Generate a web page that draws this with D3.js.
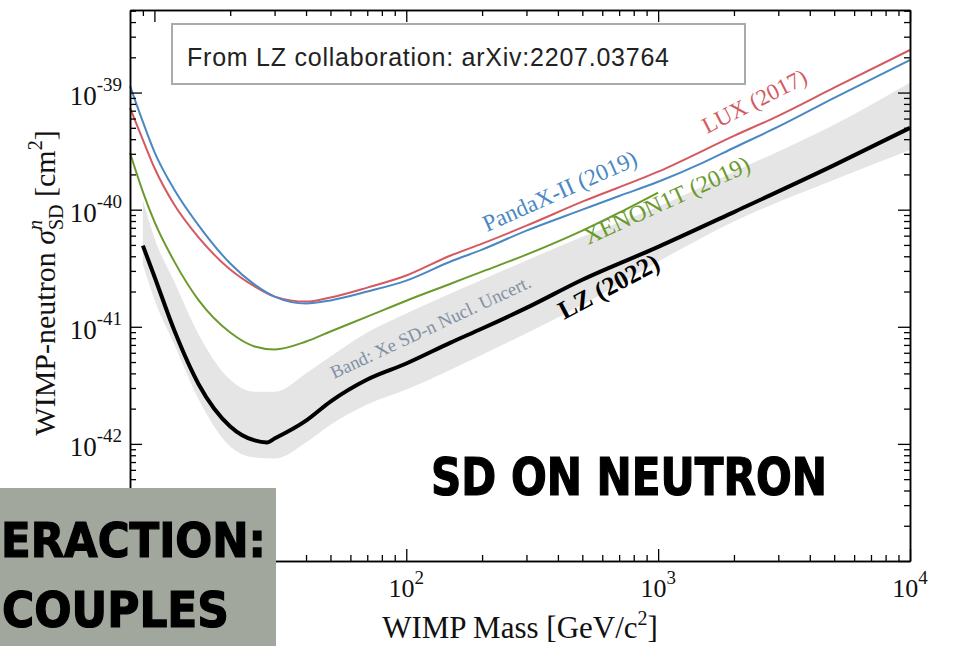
<!DOCTYPE html>
<html lang="en">
<head>
<meta charset="utf-8">
<title>LZ SD neutron limits</title>
<script src="https://d3js.org/d3.v7.min.js"></script>
<style>
    body { margin: 0; background: #fff; }
    svg { display: block; }
    .serif { font-family: "Liberation Serif", "DejaVu Serif", serif; }
</style>
</head>
<body>
<script>
// masses in GeV/c^2, cross sections in cm^2
var luxMass = [8, 9, 10, 12, 15, 20, 25, 30, 40, 50, 70, 100, 150, 200, 300, 500, 1000, 2000, 3000, 5000, 10000];
var luxSigma = [7.4e-40, 3.95e-40, 2.28e-40, 1.10e-40, 5.77e-41, 3.08e-41, 2.21e-41, 1.81e-41, 1.64e-41, 1.78e-41, 2.16e-41,
    2.74e-41, 4.06e-41, 5.13e-41, 7.30e-41, 1.17e-40, 2.11e-40, 4.27e-40, 6.33e-40, 1.10e-39, 2.31e-39];

var pandaMass = [8, 9, 10, 12, 15, 20, 25, 30, 40, 50, 70, 100, 150, 200, 300, 500, 700, 1000, 1500, 2000, 3000, 5000, 10000];
var pandaSigma = [1.14e-39, 5.62e-40, 3.12e-40, 1.48e-40, 7.31e-41, 3.47e-41, 2.29e-41, 1.81e-41, 1.58e-41, 1.68e-41, 2.00e-41,
    2.48e-41, 3.61e-41, 4.56e-41, 6.62e-41, 1.00e-40, 1.31e-40, 1.73e-40, 2.51e-40, 3.38e-40, 5.11e-40, 9.01e-40, 1.90e-39];

var xenonMass = [8, 9, 10, 12, 15, 20, 25, 30, 40, 50, 70, 100, 150, 200, 300, 500, 700, 1000];
var xenonSigma = [3.06e-40, 1.42e-40, 7.90e-41, 3.60e-41, 1.68e-41, 8.93e-42, 6.79e-42, 6.40e-42, 7.48e-42, 9.12e-42, 1.22e-41,
    1.67e-41, 2.33e-41, 2.96e-41, 4.13e-41, 6.62e-41, 9.42e-41, 1.40e-40];

var lzMass = [9, 10, 12, 15, 20, 25, 28, 30, 40, 50, 70, 100, 150, 200, 300, 500, 1000, 2000, 5000, 10000];
var lzSigma = [4.93e-41, 2.69e-41, 9.29e-42, 3.22e-42, 1.41e-42, 1.07e-42, 1.03e-42, 1.11e-42, 1.58e-42, 2.30e-42, 3.55e-42,
    4.86e-42, 7.33e-42, 9.66e-42, 1.45e-41, 2.52e-41, 4.81e-41, 9.54e-41, 2.40e-40, 4.99e-40];

var bandMass = [9, 10, 12, 15, 20, 25, 30, 40, 50, 70, 100, 200, 500, 1000, 2000, 5000, 10000];
var bandHigh = [1.21e-40, 5.74e-41, 2.42e-41, 8.55e-42, 3.53e-42, 2.79e-42, 2.79e-42, 4.00e-42, 5.58e-42, 8.93e-42, 1.30e-41,
    2.52e-41, 5.86e-41, 1.06e-40, 2.11e-40, 5.30e-40, 1.21e-39];
var bandLow = [3.40e-41, 1.71e-41, 7.05e-42, 2.39e-42, 9.51e-43, 7.66e-43, 7.51e-43, 1.03e-42, 1.46e-42, 2.17e-42, 2.91e-42,
    5.78e-42, 1.54e-41, 3.60e-41, 7.91e-41, 1.80e-40, 3.24e-40];

var xMajor = [10, 100, 1000, 10000];
var xLabels = [100, 1000, 10000];
var yMajor = [1e-43, 1e-42, 1e-41, 1e-40, 1e-39];

var width = 957, height = 646;
var margin = { top: 10, right: 47, bottom: 85, left: 130 };

var svg = d3.select("body").append("svg")
    .attr("width", width)
    .attr("height", height);

var x = d3.scaleLog().domain([8, 10000]).range([margin.left, width - margin.right]);
var y = d3.scaleLog().domain([1e-43, 5.07e-39]).range([height - margin.bottom, margin.top]);

function minorTicks(lo, hi) {
    var t = [];
    for (var e = Math.floor(Math.log10(lo)); e <= Math.ceil(Math.log10(hi)); e++) {
        for (var k = 2; k <= 9; k++) {
            var v = k * Math.pow(10, e);
            if (v > lo && v < hi) t.push(v);
        }
    }
    return t;
}

// uncertainty band
var bandData = bandMass.map(function (m, i) { return { m: m, lo: bandLow[i], hi: bandHigh[i] }; });
svg.append("path")
    .datum(bandData)
    .attr("fill", "#e5e5e5")
    .attr("d", d3.area()
        .x(function (d) { return x(d.m); })
        .y0(function (d) { return y(d.lo); })
        .y1(function (d) { return y(d.hi); })
        .curve(d3.curveMonotoneX));

var line = d3.line()
    .x(function (d) { return x(d[0]); })
    .y(function (d) { return y(d[1]); })
    .curve(d3.curveMonotoneX);

function drawCurve(ms, ss, color, w) {
    svg.append("path")
        .datum(d3.zip(ms, ss))
        .attr("fill", "none")
        .attr("stroke", color)
        .attr("stroke-width", w)
        .attr("stroke-linejoin", "round")
        .attr("d", line);
}

drawCurve(xenonMass, xenonSigma, "#6b9a2c", 2);
drawCurve(luxMass, luxSigma, "#d45a60", 2);
drawCurve(pandaMass, pandaSigma, "#4a88c4", 2);
drawCurve(lzMass, lzSigma, "#000", 4);

// curve labels
function rotLabel(txt, px, py, ang, size, color, weight) {
    svg.append("text")
        .attr("class", "serif")
        .attr("transform", "translate(" + px + "," + py + ") rotate(" + ang + ")")
        .attr("font-size", size)
        .attr("font-weight", weight || "normal")
        .attr("fill", color)
        .text(txt);
}
rotLabel("PandaX-II (2019)", 487, 232, -24, 23.5, "#4a88c4");
rotLabel("LUX (2017)", 707, 134, -27, 23, "#d45a60");
rotLabel("XENON1T (2019)", 588, 245, -24.5, 24, "#6b9a2c");
rotLabel("LZ (2022)", 564, 320, -28, 26, "#000", "bold");
rotLabel("Band: Xe SD-n Nucl. Uncert.", 334, 379, -25, 18.5, "#7f90a4");

// axes: inward ticks on all four sides
var x0 = x.range()[0], x1 = x.range()[1], y0 = y.range()[0], y1 = y.range()[1];
var xMinor = minorTicks(8, 10000), yMinor = minorTicks(1e-43, 5.07e-39);

function addAxis(gen, tx, ty, vals, size) {
    svg.append("g")
        .attr("transform", "translate(" + tx + "," + ty + ")")
        .call(gen.tickValues(vals).tickSizeInner(size).tickSizeOuter(0).tickFormat(""))
        .call(function (g) { g.select(".domain").attr("stroke-width", 1.5); })
        .selectAll(".tick line").attr("stroke-width", 1.3);
}
addAxis(d3.axisBottom(x), 0, y0, xMajor, -12);
addAxis(d3.axisBottom(x), 0, y0, xMinor, -6);
addAxis(d3.axisTop(x), 0, y1, xMajor, -12);
addAxis(d3.axisTop(x), 0, y1, xMinor, -6);
addAxis(d3.axisLeft(y), x0, 0, yMajor, -12);
addAxis(d3.axisLeft(y), x0, 0, yMinor, -6);
addAxis(d3.axisRight(y), x1, 0, yMajor, -12);
addAxis(d3.axisRight(y), x1, 0, yMinor, -6);

// tick labels with exponents
yMajor.forEach(function (v) {
    if (y(v) > y0 - 1) return;
    var t = svg.append("text").attr("class", "serif")
        .attr("x", x0 - 8).attr("y", y(v) + 12)
        .attr("text-anchor", "end").attr("font-size", 27).attr("fill", "#111");
    t.append("tspan").text("10");
    t.append("tspan").attr("font-size", 19).attr("dy", -14).text(Math.round(Math.log10(v)));
});
xLabels.forEach(function (v) {
    var t = svg.append("text").attr("class", "serif")
        .attr("x", x(v)).attr("y", 597)
        .attr("text-anchor", "middle").attr("font-size", 26).attr("fill", "#111");
    t.append("tspan").text("10");
    t.append("tspan").attr("font-size", 19).attr("dy", -13).text(Math.round(Math.log10(v)));
});

// axis titles
var xt = svg.append("text").attr("class", "serif")
    .attr("x", (x0 + x1) / 2).attr("y", 638)
    .attr("text-anchor", "middle").attr("font-size", 31).attr("fill", "#111");
xt.append("tspan").text("WIMP Mass [GeV/c");
xt.append("tspan").attr("font-size", 20).attr("dy", -13).text("2");
xt.append("tspan").attr("dy", 13).text("]");

var yt = svg.append("text").attr("class", "serif")
    .attr("transform", "translate(55,283) rotate(-90)")
    .attr("text-anchor", "middle").attr("font-size", 30).attr("fill", "#111");
yt.append("tspan").text("WIMP-neutron ");
yt.append("tspan").attr("font-style", "italic").text("σ");
yt.append("tspan").attr("font-size", 20).attr("font-style", "italic").attr("dy", -13).text("n");
yt.append("tspan").attr("font-size", 20).attr("dx", -10).attr("dy", 21).text("SD");
yt.append("tspan").attr("dy", -8).text(" [cm");
yt.append("tspan").attr("font-size", 20).attr("dy", -13).text("2");
yt.append("tspan").attr("dy", 13).text("]");

// source box
svg.append("rect")
    .attr("x", 172).attr("y", 24).attr("width", 573).attr("height", 60)
    .attr("fill", "#fff").attr("stroke", "#a6ada6").attr("stroke-width", 2);
svg.append("text")
    .attr("x", 187).attr("y", 66)
    .attr("font-family", "Liberation Sans, Arial, sans-serif")
    .attr("font-size", 25).attr("fill", "#222")
    .attr("textLength", 482)
    .text("From LZ collaboration: arXiv:2207.03764");

// overlay headings
function heading(txt, px, py, size, len) {
    svg.append("text")
        .attr("x", px).attr("y", py)
        .attr("font-family", "DejaVu Sans Condensed, Liberation Sans Narrow, sans-serif")
        .attr("font-weight", "bold").attr("font-size", size)
        .attr("textLength", len).attr("lengthAdjust", "spacingAndGlyphs")
        .attr("fill", "#000").attr("stroke", "#000").attr("stroke-width", 1.2)
        .text(txt);
}
heading("SD ON NEUTRON", 431, 495, 51, 396);

svg.append("rect")
    .attr("x", 0).attr("y", 488).attr("width", 276).attr("height", 158)
    .attr("fill", "#a1a79d");
heading("ERACTION:", 1, 557, 48, 265);
heading("COUPLES", 2, 627, 50, 227);
</script>
</body>
</html>
